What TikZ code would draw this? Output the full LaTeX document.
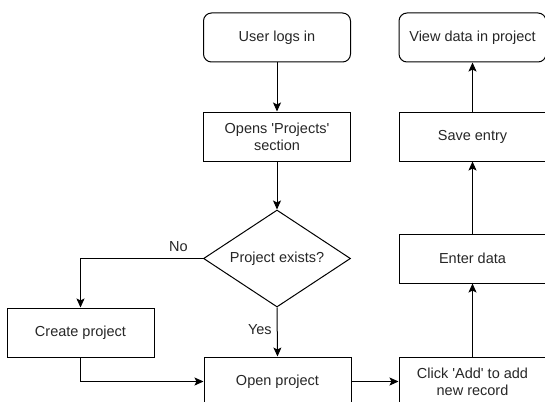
\documentclass[tikz,border=0pt]{standalone}
\usepackage{fontspec}
\setmainfont{Liberation Sans}[Ligatures=TeXOff]
\usetikzlibrary{arrows.meta,shapes.geometric}
\begin{document}
\begin{tikzpicture}[x=1pt,y=-1pt,
  every node/.style={font=\fontsize{14.5}{17}\selectfont, text=black!85},
  box/.style={draw=black, line width=1pt, minimum width=147pt, minimum height=49pt, inner sep=0pt, align=center},
  rbox/.style={box, rounded corners=8pt},
  dec/.style={draw=black, line width=1pt, diamond, aspect=1.5, minimum width=147pt, minimum height=97pt, inner sep=0pt},
  arr/.style={draw=black, line width=1pt, -{Stealth[length=9pt,width=8pt,inset=2pt]}},
  lbl/.style={inner sep=1pt}
]
\useasboundingbox (0,0) rectangle (545,401);
\clip (0,0) rectangle (545,401);

\node[rbox] (login) at (277,37.5) {User logs in};
\node[box] (opens) at (277,136.5) {Opens 'Projects'\\section};
\node[dec] (exists) at (277,258.5) {Project exists?};
\node[box] (create) at (80.5,332.5) {Create project};
\node[box] (open) at (277.5,381.5) {Open project};
\node[box] (click) at (472.5,381.5) {Click 'Add' to add\\new record};
\node[box] (enter) at (472.5,258.5) {Enter data};
\node[box] (save) at (472.5,136.5) {Save entry};
\node[rbox] (view) at (472.5,37.5) {View data in project};

\draw[arr] (login) -- (opens);
\draw[arr] (opens) -- (exists);
\draw[arr] (exists.west) -| node[lbl, pos=0.1, above=5pt] {No} (create.north);
\draw[arr] (exists.south) -- node[lbl, pos=0.45, left=4pt] {Yes} (open.north);
\draw[arr] (create.south) |- (open.west);
\draw[arr] (open.east) -- (click.west);
\draw[arr] (click.north) -- (enter.south);
\draw[arr] (enter.north) -- (save.south);
\draw[arr] (save.north) -- (view.south);
\end{tikzpicture}
\end{document}
